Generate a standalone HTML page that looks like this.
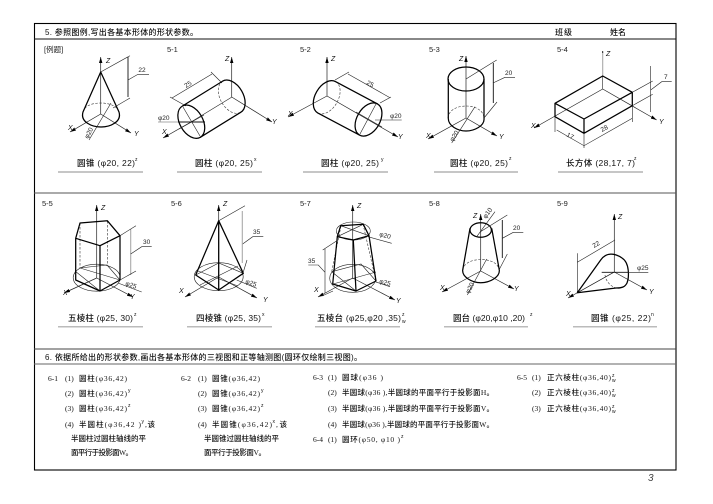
<!DOCTYPE html>
<html><head><meta charset="utf-8"><style>
html,body{margin:0;padding:0;background:#fff;width:713px;height:504px;overflow:hidden}
svg{display:block;filter:blur(.25px)}
text{font-family:"Liberation Sans","Noto Sans CJK SC",sans-serif;fill:#111}
.c{font-size:8.5px;fill:#111;font-weight:500}
.h{font-size:8px;font-weight:500}
.l{font-size:7.5px;fill:#222}
.b{font-family:"Liberation Serif","Noto Sans CJK SC",serif;font-size:7.5px;fill:#111;font-weight:500}
.s{font-size:5px}
.a{font-size:7px;font-style:italic}
.d{font-size:6.5px;fill:#222}
.t{stroke:#000;stroke-width:1.25;fill:none;stroke-linejoin:round}
.n{stroke:#222;stroke-width:.6;fill:none}
.x{stroke:#222;stroke-width:.7;fill:none;marker-end:url(#ar)}
.g{stroke:#aaa;stroke-width:1.1;fill:none}
.k{stroke:#111;stroke-width:.9;fill:none}
.h2{stroke:#333;stroke-width:.6;fill:none;stroke-dasharray:2.5 1.5}
.u{stroke:#666;stroke-width:.7}
.v{stroke:#bbb;stroke-width:1.5}
</style></head><body>
<svg width="713" height="504" viewBox="0 0 713 504" xmlns="http://www.w3.org/2000/svg">
<defs><marker id="ar" markerWidth="7" markerHeight="6" refX="6" refY="2.5" orient="auto" markerUnits="userSpaceOnUse"><path d="M0 .8L6 2.5L0 4.2z" fill="#000"/></marker></defs>

<rect x="34.5" y="23.5" width="641.5" height="446.5" fill="none" stroke="#000" stroke-width="1.1"/>
<line x1="34" y1="39" x2="676" y2="39" stroke="#111" stroke-width=".9"/>
<line x1="34" y1="193" x2="676" y2="193" stroke="#555" stroke-width=".9"/>
<line x1="34" y1="349" x2="676" y2="349" stroke="#444" stroke-width=".9"/>
<line x1="34" y1="364" x2="676" y2="364" stroke="#666" stroke-width="1"/>

<text class="h" x="45" y="35" textLength="153">5. 参照图例,写出各基本形体的形状参数。</text>
<text class="h" x="555" y="35" textLength="17">班级</text>
<text class="h" x="610" y="35" textLength="16">姓名</text>

<text class="l" x="44" y="52">[例题]</text>
<text class="l" x="167" y="52">5-1</text>
<text class="l" x="300" y="52">5-2</text>
<text class="l" x="429" y="52">5-3</text>
<text class="l" x="557" y="52">5-4</text>
<text class="l" x="42" y="206">5-5</text>
<text class="l" x="171" y="206">5-6</text>
<text class="l" x="300" y="206">5-7</text>
<text class="l" x="429" y="206">5-8</text>
<text class="l" x="557" y="206">5-9</text>

<!-- example cone -->
<g>
<path class="x" d="M100.7 114V57"/><path class="x" d="M100.7 114L70 132"/><path class="x" d="M100.7 114L131 133"/>
<path class="h2" d="M83 112C85 100 116 100 119 112"/>
<path class="t" d="M100.7 72L83 112C80 122 92 127 101 127C110 127 122 122 119 112Z"/>
<path class="n" d="M100.7 72L130 55.7M113 108L130 98M128 80L138 74.3H149"/>
<path class="k" d="M128 57V97"/>
<path class="n" d="M89 140L111 103"/>
<text class="a" x="106" y="63">Z</text><text class="a" x="68" y="130">X</text><text class="a" x="134" y="136">Y</text>
<text class="d" x="142" y="72" text-anchor="middle">22</text>
<text class="d" transform="translate(88,139) rotate(-62)">φ20</text>
</g>
<line class="u" x1="58" y1="172" x2="143" y2="172"/>
<text class="c" x="77" y="166" textLength="58">圆锥 (φ20, 22)</text><text class="s" x="135" y="161">z</text>

<!-- 5-1 -->
<g>
<path class="x" d="M231.7 97V57"/><path class="x" d="M231.7 97L272 122"/><path class="x" d="M191 122L163 138"/>
<path class="h2" d="M222.7 81.1A11.5 18 -30 0 0 240.7 112.3"/>
<path class="n" d="M191 122L232 97M172 98L212 74M170 97L186 106M211 72L222 83"/>
<path class="t" d="M182.3 106.1L222.7 81.1A11.5 18 -30 0 1 240.7 112.3L200.3 137.3"/>
<ellipse class="t" cx="191.3" cy="121.7" rx="11.5" ry="18" transform="rotate(-30 191.3 121.7)"/>
<path class="n" d="M183 107L200 136M179 129L204 115"/>
<path class="g" d="M158 122H178"/><path class="k" d="M178 122H205"/>
<text class="a" x="225" y="61">Z</text><text class="a" x="272" y="124">Y</text><text class="a" x="162" y="134">X</text>
<text class="d" x="158" y="120">φ20</text>
<text class="d" transform="translate(186,88) rotate(-32)">25</text>
</g>
<line class="u" x1="177" y1="172" x2="262" y2="172"/>
<text class="c" x="195" y="166" textLength="58">圆柱 (φ20, 25)</text><text class="s" x="254" y="161">x</text>

<!-- 5-2 -->
<g>
<path class="x" d="M327 96V57"/><path class="x" d="M327 96L288 117"/><path class="x" d="M327 96L398 137"/>
<path class="h2" d="M335.7 81.7A11.5 18 30 0 1 317.7 112.9"/>
<path class="t" d="M377.5 103.9L335.7 81.7A11.5 18 30 0 0 317.7 112.9L359.5 135.1"/>
<ellipse class="t" cx="368.5" cy="119.5" rx="11.5" ry="18" transform="rotate(30 368.5 119.5)"/>
<path class="n" d="M376 104L360 134M356 112L382 127"/>
<path class="n" d="M348 74L390 97.7M335 80L349 72M380 103L391 97"/>
<path class="n" d="M375 120H401.7"/>
<text class="a" x="331" y="61">Z</text><text class="a" x="398" y="139">Y</text><text class="a" x="288" y="116">X</text>
<text class="d" transform="translate(366,84) rotate(28)">25</text>
<text class="d" x="390" y="118">φ20</text>
</g>
<line class="u" x1="303" y1="172" x2="388" y2="172"/>
<text class="c" x="321" y="166" textLength="58">圆柱 (φ20, 25)</text><text class="s" x="381" y="161">y</text>

<!-- 5-3 -->
<g>
<path class="x" d="M466 118V56"/><path class="x" d="M466 118L428 139"/><path class="x" d="M466 118L497 136"/>
<path class="h2" d="M448 118C449 102 483 102 484 118"/>
<path class="t" d="M448.3 79V118C448 126 458 131 466 131C474 131 485 126 484 118V79"/>
<ellipse class="t" cx="466" cy="79" rx="18" ry="12"/>
<path class="n" d="M466 79L496.7 60M484 118L497 102M451.7 143L475 106.7"/>
<path class="k" d="M493.3 63V103"/><path class="n" d="M493 83L505 77.3H515"/>
<text class="a" x="459" y="61">Z</text><text class="a" x="426" y="138">X</text><text class="a" x="499" y="139">Y</text>
<text class="d" x="505" y="75">20</text>
<text class="d" transform="translate(453,142) rotate(-58)">φ20</text>
</g>
<line class="u" x1="434" y1="172" x2="518" y2="172"/>
<text class="c" x="450" y="166" textLength="58">圆柱 (φ20, 25)</text><text class="s" x="509" y="160">z</text>

<!-- 5-4 -->
<g>
<path class="g" d="M602.7 52V76"/><path class="k" d="M602.7 51V53"/>
<path class="n" d="M602.7 76V89"/><path class="x" d="M602.7 89L534 128"/><path class="x" d="M602.7 89L656.7 120"/>
<path class="t" d="M602.7 76L632.3 92.3L584 119L555 103.3ZM555 103.3V116.7L584 133.3L632.3 105.7V92.3M584 119V133.3"/>
<path class="n" d="M555 117V132M584 133V148M632.3 106V122M556.7 130L584 145.7L632.3 118.3"/>
<path class="n" d="M632.3 92.3L652.7 81M632.3 105.7L652.7 94.3M650.7 66V112M650.7 90L661.7 81.7H671.7"/>
<text class="a" x="606" y="56">Z</text><text class="a" x="531" y="128">X</text><text class="a" x="659" y="124">Y</text>
<text class="d" x="664" y="79">7</text>
<text class="d" transform="translate(566,136) rotate(28)">17</text>
<text class="d" transform="translate(602,132) rotate(-28)">28</text>
</g>
<line class="u" x1="558" y1="172" x2="643" y2="172"/>
<text class="c" x="566" y="166" textLength="69">长方体 (28,17, 7)</text><text class="s" x="634" y="160">z</text>

<!-- 5-5 -->
<g>
<path class="x" d="M96.7 278V205"/><path class="x" d="M96.7 278L64 293"/><path class="x" d="M96.7 278L133 297"/>
<ellipse class="n" cx="96.7" cy="277.7" rx="23.5" ry="13.5"/>
<path class="h2" d="M80 223V268M107.3 221V265"/>
<path class="n" d="M80 268L107 265L120 280M75 271L100 291M80 268L120 280"/>
<path class="t" d="M80 223L107.3 220.7L120 235.7L100 245.7L75.7 238.3ZM75.7 238V280L100 291L120 280V235.7M100 245.7V291"/>
<path class="g" d="M130.7 229V275"/>
<path class="n" d="M120 235.7L136 225.7M120 280L136 271M130.7 254L141.7 246.7H151.7M118 283L141.7 292"/>
<text class="a" x="101" y="210">Z</text><text class="a" x="63" y="295">X</text><text class="a" x="130" y="299">Y</text>
<text class="d" x="143" y="244">30</text>
<text class="d" transform="translate(125,285) rotate(20)">φ25</text>
</g>
<line class="v" x1="58" y1="326.7" x2="143" y2="326.7"/>
<text class="c" x="68" y="321" textLength="65">五棱柱 (φ25, 30)</text><text class="s" x="134" y="316">z</text>

<!-- 5-6 -->
<g>
<path class="x" d="M218.7 277V205"/><path class="x" d="M218.7 277L185 297"/><path class="x" d="M218.7 277L257 298"/>
<ellipse class="n" cx="218.7" cy="276.7" rx="24.5" ry="14"/>
<path class="n" d="M195.7 275L218.7 263L243.3 273.3M198 271L238 286M200 285L238 266"/>
<path class="t" d="M218.7 220.7L195.7 275L218.7 290L243.3 273.3ZM218.7 220.7V290"/>
<path class="n" d="M218.7 220.7L245 205.7M243 273L247 260M242.3 244.3L252.7 236.7H263.3M236.7 280L256.7 288.3"/>
<path class="g" d="M242.3 211V263"/>
<text class="a" x="223" y="206">Z</text><text class="a" x="179" y="293">X</text><text class="a" x="263" y="302">Y</text>
<text class="d" x="253" y="234">35</text>
<text class="d" transform="translate(245,283) rotate(20)">φ25</text>
</g>
<line class="v" x1="187" y1="326.7" x2="272" y2="326.7"/>
<text class="c" x="196" y="321" textLength="65">四棱锥 (φ25, 35)</text><text class="s" x="262" y="316">x</text>

<!-- 5-7 -->
<g>
<path class="x" d="M352.7 278V205"/><path class="x" d="M352.7 278L318 297"/><path class="x" d="M352.7 278L395 300"/>
<ellipse class="n" cx="353.3" cy="231" rx="17" ry="9"/>
<ellipse class="n" cx="352.7" cy="278.3" rx="23" ry="14"/>
<path class="h2" d="M341 226L331.7 271.7M363 224L376 281"/>
<path class="n" d="M331.7 271.7L361 264L376 281M337.3 236.7L363.3 224.3M340.7 225.7L369 235.7M333 284L376 272M332 272L356 291"/>
<path class="t" d="M340.7 225.7L363.3 224.3L369 235.7L353.3 240L337.3 236.7ZM337.3 236.7L332.7 284L356 291L376 281L369 235.7M353.3 240L356 291"/>
<path class="n" d="M338 240L322.7 250M333 291L322 296M325 249V293M325 272.3L318.3 265H308.3M368 236.7L391.7 243.3M375 281.7L390 286.7"/>
<text class="a" x="357" y="208">Z</text><text class="a" x="314" y="292">X</text><text class="a" x="396" y="303">Y</text>
<text class="d" x="308" y="263">35</text>
<text class="d" transform="translate(379,236) rotate(15)">φ20</text>
<text class="d" transform="translate(379,283) rotate(15)">φ25</text>
</g>
<line class="v" x1="315" y1="326.7" x2="400" y2="326.7"/>
<text class="c" x="317" y="321" textLength="84">五棱台 (φ25,φ20 ,35)</text><text class="s" x="402" y="316">z</text><text class="s" x="402" y="323">w</text>

<!-- 5-8 -->
<g>
<path class="x" d="M480.7 271V214"/><path class="x" d="M480.7 271L442 292"/><path class="x" d="M480.7 271L514 289"/>
<path class="h2" d="M463 270C464 256 498 256 499 270"/>
<path class="t" d="M470 228.3L462.7 270C462 277 472 282.7 480.7 282.7C490 282.7 500 277 499.3 270L491.7 228.3"/>
<ellipse class="t" cx="480.7" cy="230" rx="10.7" ry="7.3"/>
<path class="n" d="M476.7 236.7L495 211.7M480 232L507.3 215M499 270L507.3 254M467.3 295L486.7 259"/>
<path class="k" d="M502.3 220V258"/><path class="n" d="M502.3 238.3L513.3 232.3H523.3"/>
<text class="a" x="473" y="218">Z</text><text class="a" x="440" y="290">X</text><text class="a" x="514" y="291">Y</text>
<text class="d" x="513" y="230">20</text>
<text class="d" transform="translate(486,219) rotate(-55)">φ10</text>
<text class="d" transform="translate(469,294) rotate(-62)">φ20</text>
</g>
<line class="v" x1="444" y1="326.7" x2="528" y2="326.7"/>
<text class="c" x="453" y="321" textLength="72">圆台 (φ20,φ10 ,20)</text><text class="s" x="530" y="316">z</text>

<!-- 5-9 -->
<g>
<path class="x" d="M614.3 272V214"/><path class="x" d="M614.3 272L568 298"/><path class="x" d="M614.3 272L647 290"/>
<path class="h2" d="M605 275C606 283 614 290 622 288"/>
<path class="n" d="M577.3 292.7L614.3 272M577.3 253.3V292.7M577.3 262.3L615 240"/>
<path class="t" d="M577.3 292.7L600.7 260C606 252 615 253 622 258C630 263 629 278 627 283C625 287 622 288 616 288Z"/>
<path class="k" d="M601.7 272.3H628"/><path class="n" d="M628 272.3H648.3"/>
<text class="a" x="618" y="219">Z</text><text class="a" x="566" y="296">X</text><text class="a" x="649" y="294">Y</text>
<text class="d" x="637" y="270">φ25</text>
<text class="d" transform="translate(594,248) rotate(-30)">22</text>
</g>
<line class="v" x1="573" y1="326.7" x2="657" y2="326.7"/>
<text class="c" x="591" y="321" textLength="60">圆锥 (φ25, 22)</text><text class="s" x="651" y="316">n</text>

<text class="h" x="45" y="360" textLength="317">6. 依据所给出的形状参数,画出各基本形体的三视图和正等轴测图(圆环仅绘制三视图)。</text>

<!-- 6-1 -->
<text class="b" x="48" y="381">6-1</text>
<text class="b" x="65" y="381">(1)</text><text class="b" x="79" y="381" textLength="48">圆柱(φ36,42)</text>
<text class="b" x="65" y="396">(2)</text><text class="b" x="79" y="396" textLength="48">圆柱(φ36,42)</text><text class="s" x="128" y="392">y</text>
<text class="b" x="65" y="411">(3)</text><text class="b" x="79" y="411" textLength="48">圆柱(φ36,42)</text><text class="s" x="128" y="407">z</text>
<text class="b" x="65" y="427">(4)</text><text class="b" x="79" y="427" textLength="62">半圆柱(φ36,42 )</text><text class="s" x="141.5" y="423">y</text><text class="b" x="145" y="427" textLength="10">,该</text>
<text class="b" x="71" y="441" textLength="75">半圆柱过圆柱轴线的平</text>
<text class="b" x="71" y="455" textLength="62">面平行于投影面W。</text>

<!-- 6-2 -->
<text class="b" x="181" y="381">6-2</text>
<text class="b" x="198" y="381">(1)</text><text class="b" x="212" y="381" textLength="48">圆锥(φ36,42)</text>
<text class="b" x="198" y="396">(2)</text><text class="b" x="212" y="396" textLength="48">圆锥(φ36,42)</text><text class="s" x="261" y="392">y</text>
<text class="b" x="198" y="411">(3)</text><text class="b" x="212" y="411" textLength="48">圆锥(φ36,42)</text><text class="s" x="261" y="407">z</text>
<text class="b" x="198" y="427">(4)</text><text class="b" x="212" y="427" textLength="60">半圆锥(φ36,42)</text><text class="s" x="272.5" y="423">x</text><text class="b" x="276" y="427" textLength="11">,该</text>
<text class="b" x="204" y="441" textLength="75">半圆锥过圆柱轴线的平</text>
<text class="b" x="204" y="455" textLength="62">面平行于投影面V。</text>

<!-- 6-3 -->
<text class="b" x="313" y="380">6-3</text>
<text class="b" x="328" y="380">(1)</text><text class="b" x="342" y="380" textLength="41">圆球(φ36 )</text>
<text class="b" x="328" y="395">(2)</text><text class="b" x="342" y="395" textLength="152">半圆球(φ36 ),半圆球的平面平行于投影面H。</text>
<text class="b" x="328" y="411">(3)</text><text class="b" x="342" y="411" textLength="152">半圆球(φ36 ),半圆球的平面平行于投影面V。</text>
<text class="b" x="328" y="427">(4)</text><text class="b" x="342" y="427" textLength="152">半圆球(φ36 ),半圆球的平面平行于投影面W。</text>
<text class="b" x="313" y="442">6-4</text>
<text class="b" x="328" y="442">(1)</text><text class="b" x="342" y="442" textLength="58">圆环(φ50, φ10 )</text><text class="s" x="401" y="438">z</text>

<!-- 6-5 -->
<text class="b" x="517" y="380">6-5</text>
<text class="b" x="532" y="380">(1)</text><text class="b" x="547" y="380" textLength="64">正六棱柱(φ36,40)</text><text class="s" x="612" y="377">z</text><text class="s" x="612" y="382">w</text>
<text class="b" x="532" y="395">(2)</text><text class="b" x="547" y="395" textLength="64">正六棱柱(φ36,40)</text><text class="s" x="612" y="392">z</text><text class="s" x="612" y="397">w</text>
<text class="b" x="532" y="411">(3)</text><text class="b" x="547" y="411" textLength="64">正六棱柱(φ36,40)</text><text class="s" x="612" y="408">z</text><text class="s" x="612" y="413">w</text>

<text x="648" y="481" style="font-size:10px;font-style:italic;fill:#444">3</text>
</svg>
</body></html>
